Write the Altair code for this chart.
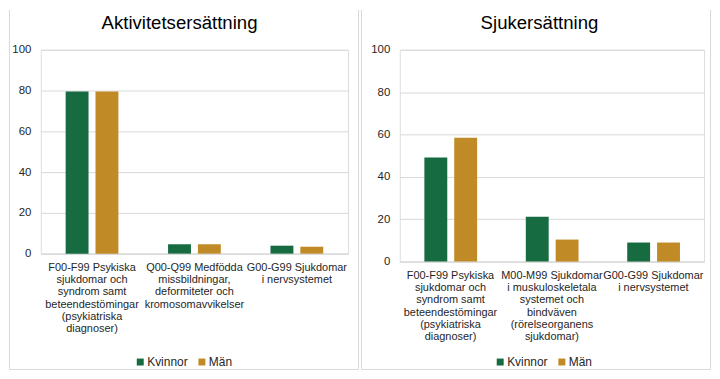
import altair as alt
import pandas as pd

FONT = "Liberation Sans"

genders = ["Kvinnor", "Män"]
colors = ["#166B40", "#C08B26"]

title_left = "Aktivitetsersättning"
cats_left = [
    "F00-F99 Psykiska\nsjukdomar och\nsyndrom samt\nbeteendestömingar\n(psykiatriska\ndiagnoser)",
    "Q00-Q99 Medfödda\nmissbildningar,\ndeformiteter och\nkromosomavvikelser",
    "G00-G99 Sjukdomar\ni nervsystemet",
]
kvinnor_left = [79.6, 4.6, 3.9]
man_left = [79.6, 4.6, 3.4]

title_right = "Sjukersättning"
cats_right = [
    "F00-F99 Psykiska\nsjukdomar och\nsyndrom samt\nbeteendestömingar\n(psykiatriska\ndiagnoser)",
    "M00-M99 Sjukdomar\ni muskuloskeletala\nsystemet och\nbindväven\n(rörelseorganens\nsjukdomar)",
    "G00-G99 Sjukdomar\ni nervsystemet",
]
kvinnor_right = [49.1, 21.2, 9.0]
man_right = [58.5, 10.4, 9.0]

y_ticks = [0, 20, 40, 60, 80, 100]
BORDER = "#D9D9D9"


def make_df(cats, k, m):
    rows = []
    for c, a, b in zip(cats, k, m):
        rows.append({"kategori": c, "kön": genders[0], "andel": a})
        rows.append({"kategori": c, "kön": genders[1], "andel": b})
    return pd.DataFrame(rows)


def panel(title, cats, k, m, w, h, lx, ly, tx, ty, rule_l, rule_r, rule_top, rule_bot):
    df = make_df(cats, k, m)
    bars = alt.Chart(df).mark_bar().encode(
        x=alt.X(
            "kategori:N",
            sort=cats,
            scale=alt.Scale(paddingInner=0.485, paddingOuter=0.2425),
            axis=alt.Axis(
                title=None,
                labelAngle=0,
                labelExpr="split(datum.label, '\\n')",
                labelLimit=0,
                labelFont=FONT,
                labelFontSize=11,
                labelLineHeight=12.3,
                labelColor="#262626",
                labelPadding=8,
                ticks=False,
                domainColor=BORDER,
                domainWidth=1,
                grid=False,
            ),
        ),
        xOffset=alt.XOffset("kön:N", sort=genders, scale=alt.Scale(paddingInner=0.233)),
        y=alt.Y(
            "andel:Q",
            scale=alt.Scale(domain=[0, 100], nice=False),
            axis=alt.Axis(
                title=None,
                values=y_ticks,
                domain=False,
                ticks=False,
                labelFont=FONT,
                labelFontSize=11.5,
                labelColor="#262626",
                labelPadding=10,
                gridColor=BORDER,
                gridWidth=1,
            ),
        ),
        color=alt.Color(
            "kön:N",
            sort=genders,
            scale=alt.Scale(domain=genders, range=colors),
            legend=alt.Legend(
                title=None,
                orient="none",
                legendX=lx,
                legendY=ly,
                direction="horizontal",
                symbolType="square",
                symbolSize=49,
                symbolStrokeWidth=0,
                labelFont=FONT,
                labelFontSize=12,
                labelColor="#262626",
                labelOffset=1,
                columnPadding=8,
            ),
        ),
    )
    tdf = pd.DataFrame({"t": [title]})
    ttl = alt.Chart(tdf).mark_text(
        font=FONT, fontSize=18.7, color="#000000", align="center", baseline="alphabetic"
    ).encode(text="t:N", x=alt.value(tx), y=alt.value(ty))
    one = pd.DataFrame({"a": [0]})
    r1 = alt.Chart(one).mark_rule(color=BORDER, strokeWidth=1).encode(
        x=alt.value(rule_l), y=alt.value(rule_top), y2=alt.value(rule_bot))
    r2 = alt.Chart(one).mark_rule(color=BORDER, strokeWidth=1).encode(
        x=alt.value(rule_r), y=alt.value(rule_top), y2=alt.value(rule_bot))
    r3 = alt.Chart(one).mark_rule(color=BORDER, strokeWidth=1).encode(
        x=alt.value(rule_l), x2=alt.value(rule_r), y=alt.value(rule_bot))
    return alt.layer(bars, ttl, r1, r2, r3).properties(width=w, height=h)


left = panel(title_left, cats_left, kvinnor_left, man_left, 309, 205,
             94, 308, 139.5, -21, -31.5, 319.5, -40, 321.5)
right = panel(title_right, cats_right, kvinnor_right, man_right, 306, 213,
              95, 308, 140.5, -21, -38.5, 312.5, -40, 321.5)

chart = alt.hconcat(left, right, spacing=0).resolve_scale(
    color="independent"
).properties(padding=0).configure_view(strokeWidth=0).configure(background="white")

chart.save("out.html", embed_options={"renderer": "svg", "actions": False})
